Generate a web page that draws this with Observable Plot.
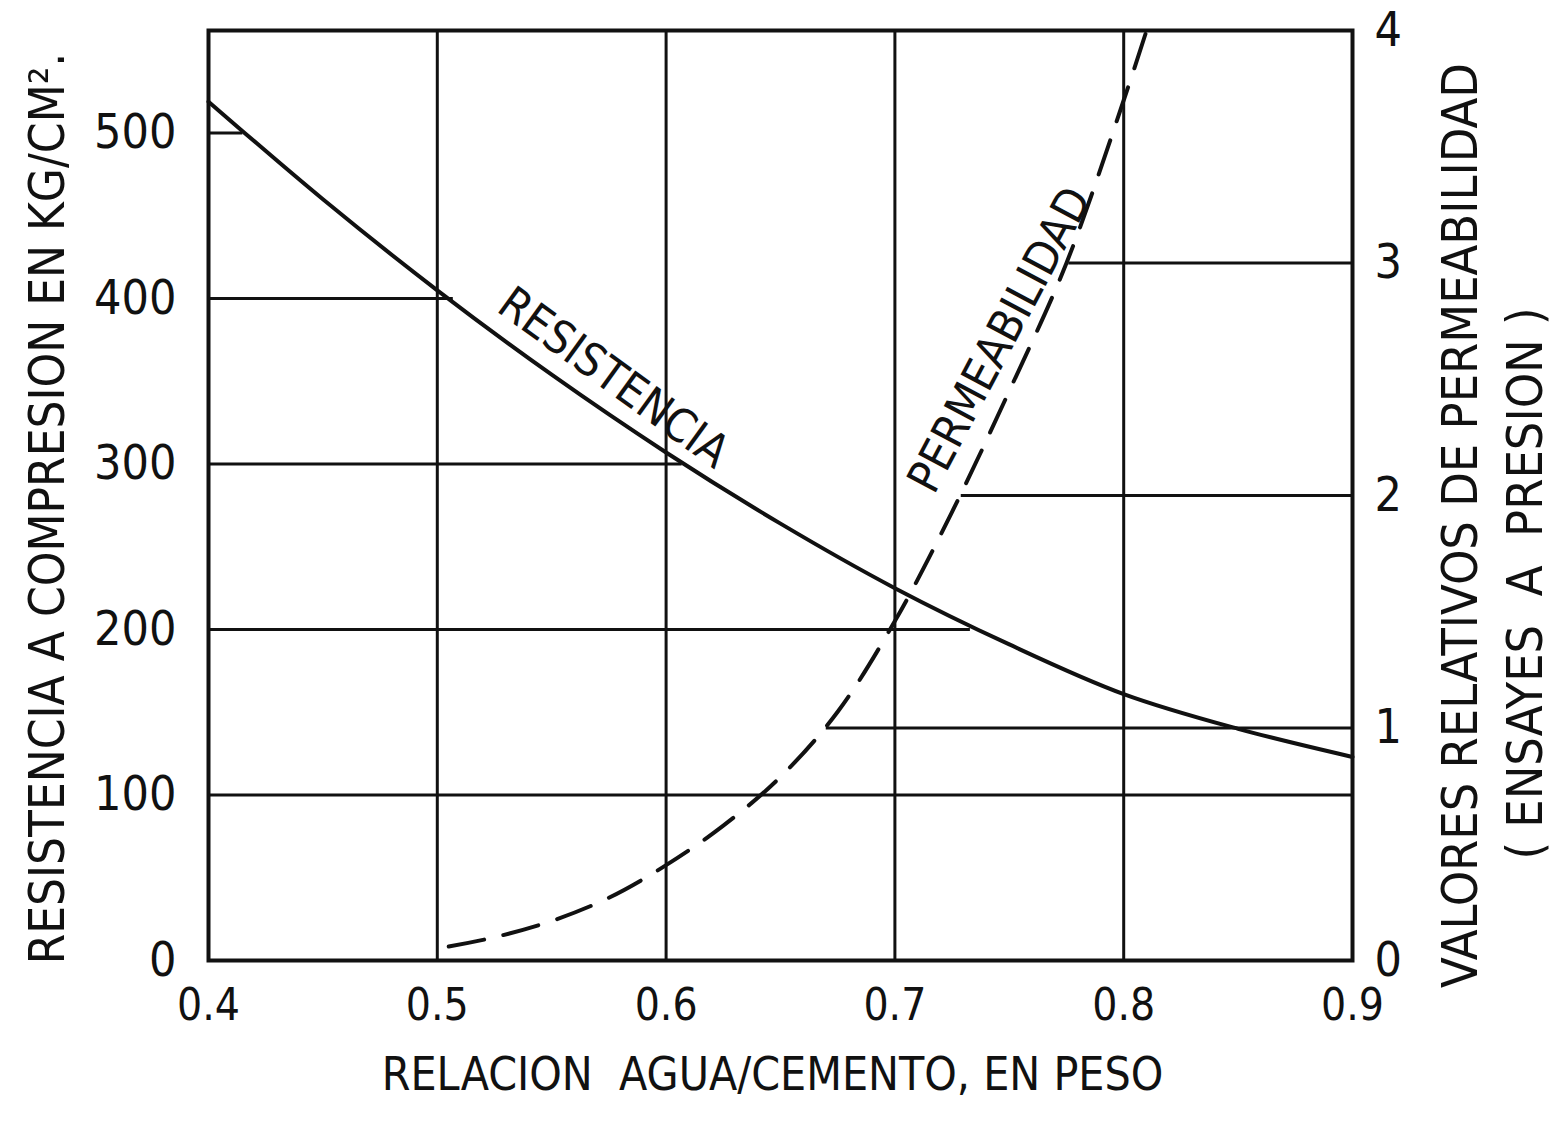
<!DOCTYPE html>
<html><head><meta charset="utf-8">
<script src="https://cdn.jsdelivr.net/npm/d3@7"></script>
<script src="https://cdn.jsdelivr.net/npm/@observablehq/plot@0.6"></script>
<style>html,body{margin:0;padding:0;background:#fff} svg{display:block}</style>
</head><body><div id="chart"></div>
<script>
// Data
const ratioX = [0.4, 0.45, 0.5, 0.55, 0.6, 0.65, 0.7, 0.75, 0.8, 0.85, 0.9];
const resistencia = [519, 460, 405, 354, 307, 264, 225, 191, 161, 140, 123];
const permX = [0.505, 0.525, 0.55, 0.575, 0.6, 0.625, 0.65, 0.675, 0.7, 0.725, 0.75, 0.775, 0.8, 0.81];
const permeabilidad = [0.06, 0.10, 0.17, 0.27, 0.41, 0.58, 0.79, 1.07, 1.46, 1.93, 2.45, 3.0, 3.7, 4.0];
const xTicks = [0.4, 0.5, 0.6, 0.7, 0.8, 0.9];
const leftTicks = [0, 100, 200, 300, 400, 500];
const rightTicks = [0, 1, 2, 3, 4];
const leftGrid = [100, 200, 300, 400, 500];
const leftGridEnd = [0.9, 0.733, 0.607, 0.507, 0.415];
const rightGrid = [1, 2, 3];
const rightGridStart = [0.67, 0.729, 0.776];
const vGrid = [0.5, 0.6, 0.7, 0.8];
const leftMax = 562;
const rightMax = 4;
const xTitle = "RELACION  AGUA/CEMENTO, EN PESO";
const yLeftTitle = "RESISTENCIA A COMPRESION EN KG/CM².";
const yRightTitle1 = "VALORES RELATIVOS DE PERMEABILIDAD";
const yRightTitle2 = "( ENSAYES  A  PRESION )";
const curveLabels = [
  {text: "RESISTENCIA", x: 0.577, y: 352, rotate: 36},
  {text: "PERMEABILIDAD", x: 0.746, y: 375, rotate: -62}
];

const k = leftMax / rightMax;
const xMin = xTicks[0], xMax = xTicks[xTicks.length - 1];
const resData = ratioX.map((x, i) => ({x, y: resistencia[i]}));
const permData = permX.map((x, i) => ({x, y: permeabilidad[i] * k}));
const leftGridData = leftGrid.map((v, i) => ({y: v, x1: xMin, x2: leftGridEnd[i]}));
const rightGridData = rightGrid.map((v, i) => ({y: v * k, x1: rightGridStart[i], x2: xMax}));
const ink = "#111";
const font = "'DejaVu Sans Condensed','DejaVu Sans',sans-serif";
const titleOpts = {text: d => d, textAnchor: "middle", lineAnchor: "middle", fill: ink};

const chart = Plot.plot({
  width: 1561,
  height: 1129,
  marginLeft: 208,
  marginRight: 209,
  marginTop: 30,
  marginBottom: 169,
  style: {fontFamily: font, color: ink, background: "#fff"},
  x: {domain: [xMin, xMax]},
  y: {domain: [0, leftMax]},
  marks: [
    Plot.ruleX(vGrid, {stroke: ink, strokeWidth: 3}),
    Plot.ruleY(leftGridData, {y: "y", x1: "x1", x2: "x2", stroke: ink, strokeWidth: 3}),
    Plot.ruleY(rightGridData, {y: "y", x1: "x1", x2: "x2", stroke: ink, strokeWidth: 3}),
    Plot.line(resData, {x: "x", y: "y", curve: "catmull-rom", stroke: ink, strokeWidth: 4}),
    Plot.line(permData, {x: "x", y: "y", curve: "catmull-rom", stroke: ink, strokeWidth: 4, strokeDasharray: "36,20"}),
    Plot.frame({stroke: ink, strokeWidth: 4}),
    Plot.text(curveLabels, {x: "x", y: "y", text: "text", rotate: "rotate", fontSize: 46, fill: ink}),
    Plot.axisX(xTicks, {tickSize: 0, tickPadding: 28, fontSize: 44, tickFormat: d => d.toFixed(1), label: null}),
    Plot.axisY(leftTicks, {anchor: "left", tickSize: 0, tickPadding: 32, fontSize: 48, label: null}),
    Plot.axisY(rightTicks.map(v => v * k), {anchor: "right", tickSize: 0, tickPadding: 22, fontSize: 48, tickFormat: d => String(Math.round(d / k)), label: null}),
    Plot.text([yLeftTitle], {...titleOpts, frameAnchor: "left", rotate: -90, dx: -160, dy: 13, fontSize: 49}),
    Plot.text([yRightTitle1], {...titleOpts, frameAnchor: "right", rotate: -90, dx: 108, dy: 30, fontSize: 50}),
    Plot.text([yRightTitle2], {...titleOpts, frameAnchor: "right", rotate: -90, dx: 173, dy: 88, fontSize: 50}),
    Plot.text([xTitle], {...titleOpts, frameAnchor: "bottom", dx: -8, dy: 115, fontSize: 46})
  ]
});
document.getElementById("chart").appendChild(chart);
</script>
</body></html>
